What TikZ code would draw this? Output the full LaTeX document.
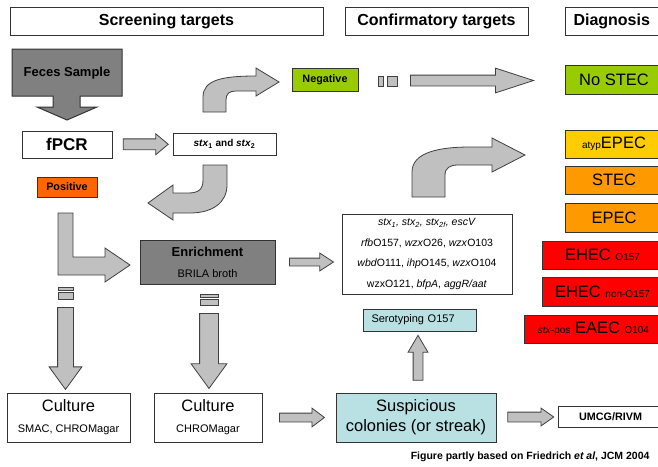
\documentclass[tikz,border=0pt]{standalone}
\usepackage{fontspec}
\setmainfont{Liberation Sans}
\usepackage{tikz}
\usetikzlibrary{shapes.arrows,calc,positioning}
\definecolor{arrowgray}{HTML}{C0C0C0}
\definecolor{darkbox}{HTML}{808080}
\definecolor{negcolor}{HTML}{99CC00}
\definecolor{poscolor}{HTML}{FF6600}
\definecolor{atypcolor}{HTML}{FFCC00}
\definecolor{stecolor}{HTML}{FF9900}
\definecolor{ehecolor}{HTML}{FF0000}
\definecolor{serocolor}{HTML}{B9E0E3}
\newcommand{\fsz}[1]{\fontsize{#1pt}{#1pt}\selectfont}
\tikzset{box/.style = {draw=black!80, line width=1pt, fill=white, inner sep=0pt, align=center}}
\tikzset{header/.style = {box, font={\fsz{16}\bfseries}, minimum height=28pt}}
\tikzset{diagbox/.style = {box, anchor=west, minimum height=28pt, font={\fsz{16.5}}}}
\tikzset{fatarrow/.style = {single arrow, draw=black!75, fill=arrowgray, line width=0.8pt, inner sep=0pt, minimum width=1pt}}
\tikzset{bentarrow/.style = {draw=black!75, fill=arrowgray, line width=0.8pt}}

\begin{document}
\begin{tikzpicture}[x=1pt,y=-1pt]
	\clip (0,0) rectangle (658,466);
	\node[header, minimum width=313pt] (scrhead) at (166.5,21) {Screening targets};
	\node[header, minimum width=183pt] (confhead) at (436.5,21) {Confirmatory targets};
	\node[header, anchor=west, text width=90pt, align=left, inner xsep=8pt] (diaghead) at (565,21) {Diagnosis};
	\draw[box, fill=darkbox] (12,49) -- (122,49) -- (122,96) -- (80,96) -- (80,107) -- (97,107) -- (67,120) -- (37,107) -- (53,107) -- (53,96) -- (12,96) -- cycle;
	\node[font={\fsz{13}\bfseries}] (feces) at (67,73) {Feces Sample};
	\node[box, minimum width=90pt, minimum height=27pt, font={\fsz{17}\bfseries}] (fpcr) at (67,144.5) {fPCR};
	\node[box, minimum width=103pt, minimum height=22pt, font={\fsz{10}\bfseries}] (stx) at (224.5,144) {\textit{stx}\textsubscript{1} and \textit{stx}\textsubscript{2}};
	\node[box, fill=negcolor, minimum width=66pt, minimum height=23pt, font={\fsz{10.8}\bfseries}] (neg) at (325,79.5) {Negative};
	\node[box, fill=poscolor, minimum width=60pt, minimum height=20pt, font={\fsz{10.8}\bfseries}] (pos) at (67,187) {Positive};
	\node[box, fill=darkbox, minimum width=135pt, minimum height=44pt] (enrich) at (207.5,262) {\fsz{13}\textbf{Enrichment}\\[9pt]\fsz{11}BRILA broth};
	\node[box, minimum width=170pt, minimum height=80pt, font={\fontsize{10.5pt}{20.7pt}\selectfont}] (conf) at (427,254)
		{\textit{stx\textsubscript{1}, stx\textsubscript{2}, stx\textsubscript{2f}, escV}\\
		 \textit{rfb}O157, \textit{wzx}O26, \textit{wzx}O103\\
		 \textit{wbd}O111, \textit{ihp}O145, \textit{wzx}O104\\
		 wzxO121, \textit{bfpA}, \textit{aggR/aat}};
	\node[box, fill=serocolor, anchor=west, text width=97pt, align=left, inner xsep=8pt, minimum height=22pt, font={\fsz{11}}] (sero) at (363,320) {Serotyping O157};
	\node[box, fill=serocolor, minimum width=160pt, minimum height=49pt, font={\fontsize{16.5pt}{20pt}\selectfont}] (susp) at (416,417.5) {Suspicious\\colonies (or streak)};
	\node[box, minimum width=123pt, minimum height=49pt] (cult1) at (68.5,417.5) {\fsz{16.5}Culture\\[9pt]\fsz{11}SMAC, CHROMagar};
	\node[box, minimum width=108pt, minimum height=49pt] (cult2) at (208,417.5) {\fsz{16.5}Culture\\[9pt]\fsz{11}CHROMagar};
	\node[box, anchor=west, minimum width=104pt, minimum height=21pt, font={\fsz{10.8}\bfseries}] (umcg) at (558,416.5) {UMCG/RIVM};
	\node[diagbox, fill=negcolor, minimum width=97pt, minimum height=29pt] (nostec) at (565,79.5) {No STEC};
	\node[diagbox, fill=atypcolor, minimum width=97pt] (atyp) at (565,144) {{\fsz{10}atyp}EPEC};
	\node[diagbox, fill=stecolor, minimum width=97pt] (stec) at (565,180) {STEC};
	\node[diagbox, fill=stecolor, minimum width=97pt, minimum height=29pt] (epec) at (565,217.5) {EPEC};
	\node[diagbox, fill=ehecolor, minimum width=120pt] (eheca) at (542,255) {EHEC {\fsz{10}O157}};
	\node[diagbox, fill=ehecolor, minimum width=120pt, minimum height=29pt] (ehecb) at (542,291.5) {EHEC {\fsz{10}non-O157}};
	\node[diagbox, fill=ehecolor, minimum width=138pt] (eaec) at (524,329) {{\fsz{10}\textit{stx}-pos} EAEC {\fsz{10}O104}};
	\node[anchor=east, font={\fsz{10.5}\bfseries}] (caption) at (653,457) {Figure partly based on Friedrich \textit{et al}, JCM 2004};
	\node[fatarrow, minimum height=45pt, inner ysep=5pt, single arrow head extend=5pt, single arrow tip angle=80] (a1) at ($(fpcr.east)!0.5!(stx.west)$) {};
	\node[fatarrow, minimum height=44pt, inner ysep=3.5pt, single arrow head extend=5pt, single arrow tip angle=66] (a2) at ($(enrich.east)!0.5!(conf.west |- enrich.east)$) {};
	\node[fatarrow, minimum height=45pt, inner ysep=4pt, single arrow head extend=5pt, single arrow tip angle=74] (a3) at ($(cult2.east)!0.5!(susp.west)$) {};
	\node[fatarrow, minimum height=46pt, inner ysep=4.5pt, single arrow head extend=4pt, single arrow tip angle=70] (a4) at ($(susp.east)!0.5!(umcg.west)$) {};
	\node[fatarrow, rotate=90, minimum height=45pt, inner ysep=4.5pt, single arrow head extend=5pt, single arrow tip angle=61] (a5) at ($(susp.north)!0.5!(sero.south)$) {};
	\node[fatarrow, minimum height=123pt, inner ysep=5pt, single arrow head extend=7pt, single arrow tip angle=36] (a6) at ($(neg.east)!0.5!(nostec.west)+(2,1)$) {};
	\draw[bentarrow] (378,76) rectangle (383,86);
	\draw[bentarrow] (387,76) rectangle (397,86);
	\node[fatarrow, rotate=-90, minimum height=82pt, inner ysep=7.5pt, single arrow head extend=8.5pt, single arrow tip angle=72] (a7) at (65.5,343) {};
	\draw[bentarrow] (58,287) rectangle (73,290);
	\draw[bentarrow] (58,292) rectangle (73,299);
	\node[fatarrow, rotate=-90, minimum height=75pt, inner ysep=9pt, single arrow head extend=8.5pt, single arrow tip angle=72] (a8) at (209,344.5) {};
	\draw[bentarrow] (200,294) rectangle (218,297);
	\draw[bentarrow] (200,299) rectangle (218,305);
	\draw[bentarrow] (203,112) -- (203,97) .. controls (203,80) and (222,76) .. (256,76) -- (256,68) -- (279,82) -- (256,96) -- (256,91) -- (236,91) .. controls (229,91) and (226,94) .. (226,100) -- (226,112) -- cycle;
	\draw[bentarrow] (203,165) -- (203,180) .. controls (203,190) and (198,193) .. (188,193) -- (173,193) -- (173,185) -- (148,203) -- (173,220) -- (173,213) -- (190,213) .. controls (212,213) and (227,203) .. (227,185) -- (227,165) -- cycle;
	\draw[bentarrow] (58,213) -- (58,275) -- (105,275) -- (105,282) -- (130,265) -- (105,248) -- (105,257) -- (73,257) -- (73,213) -- cycle;
	\draw[bentarrow] (412,197) -- (412,172) .. controls (412,152) and (440,147) .. (470,147) -- (492,147) -- (492,138) -- (525,155) -- (492,172) -- (492,165) -- (458,165) .. controls (450,165) and (445,168) .. (445,175) -- (445,197) -- cycle;
\end{tikzpicture}
\end{document}
